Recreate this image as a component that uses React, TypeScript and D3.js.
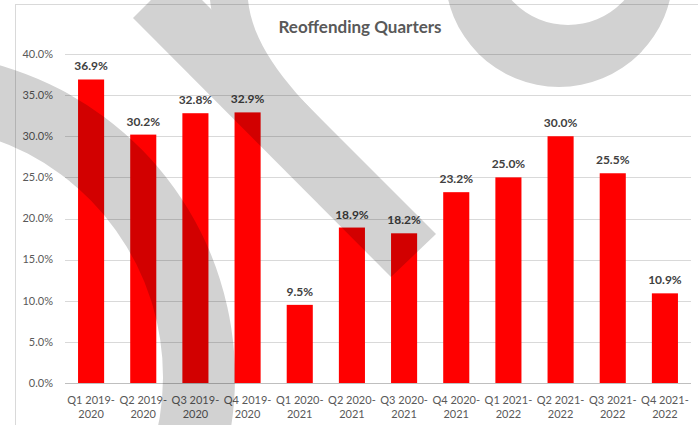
import * as d3 from 'd3';
import { type FC } from 'react';

const categories = [
  'Q1 2019-2020',
  'Q2 2019-2020',
  'Q3 2019-2020',
  'Q4 2019-2020',
  'Q1 2020-2021',
  'Q2 2020-2021',
  'Q3 2020-2021',
  'Q4 2020-2021',
  'Q1 2021-2022',
  'Q2 2021-2022',
  'Q3 2021-2022',
  'Q4 2021-2022',
];
const reoffending = [0.369, 0.302, 0.328, 0.329, 0.095, 0.189, 0.182, 0.232, 0.25, 0.3, 0.255, 0.109];
const yTicks = [0, 0.05, 0.1, 0.15, 0.2, 0.25, 0.3, 0.35, 0.4];
const title = 'Reoffending Quarters';

const width = 698;
const height = 425;
const marginTop = 54;
const marginRight = 7;
const marginBottom = 42;
const marginLeft = 65;

const font = "Lato, 'Noto Sans', sans-serif";

// grey logo watermark lying over the picture (decoration only)
const Watermark: FC = () => {
  const arcBand = d3.arc()({
    innerRadius: 252,
    outerRadius: 324,
    startAngle: -0.3,
    endAngle: 2.2,
  } as d3.DefaultArcObject);

  const diag = d3.path();
  diag.moveTo(133, 18);
  diag.lineTo(151, 0);
  diag.lineTo(202, 0);
  diag.lineTo(436, 234);
  diag.lineTo(391, 277);
  diag.closePath();

  const hook = d3.path();
  hook.moveTo(210, 0);
  hook.lineTo(248, 0);
  hook.bezierCurveTo(252, 40, 280, 80, 330, 128);
  hook.lineTo(212, 15);
  hook.closePath();

  const ring = d3.path();
  ring.moveTo(559 + 114, -27);
  ring.arc(559, -27, 114, 0, Math.PI * 2);
  ring.moveTo(568 + 76, -51);
  ring.arc(568, -51, 76, 0, Math.PI * 2);

  return (
    <g style={{ mixBlendMode: 'multiply' }} fill='#d2d2d2'>
      <path transform='translate(-89,377)' d={arcBand ?? undefined} />
      <path d={diag.toString()} />
      <path d={hook.toString()} />
      <path d={ring.toString()} fillRule='evenodd' />
    </g>
  );
};

const App: FC = () => {
  const x = d3
    .scaleBand<string>()
    .domain(categories)
    .range([marginLeft, width - marginRight])
    .paddingInner(0.5)
    .paddingOuter(0.25);

  const y = d3.scaleLinear([0, 0.4], [height - marginBottom, marginTop]);
  const pct = d3.format('.1%');

  return (
    <svg
      width={width}
      height={height}
      viewBox={`0, 0, ${width}, ${height}`}
      style={{ position: 'absolute', left: 0, top: 0, fontFamily: font }}
    >
      <rect width={width} height={height} fill='#fff' />
      <rect x={15.5} y={4.5} width={700} height={440} fill='none' stroke='#d9d9d9' />

      <text x={360} y={33} textAnchor='middle' fontSize={17} fontWeight={700} fill='#595959'>
        {title}
      </text>

      <g>
        {yTicks.map((t) => (
          <g key={t}>
            <line
              x1={marginLeft}
              x2={width - marginRight}
              y1={Math.round(y(t)) + 0.5}
              y2={Math.round(y(t)) + 0.5}
              stroke={t === 0 ? '#bfbfbf' : '#d9d9d9'}
            />
            <text x={53} y={y(t)} dy='0.35em' textAnchor='end' fontSize={11} fill='#595959'>
              {pct(t)}
            </text>
          </g>
        ))}
      </g>

      <g fill='#ff0000'>
        {categories.map((c, i) => (
          <rect
            key={c}
            x={x(c)}
            y={y(reoffending[i])}
            width={x.bandwidth()}
            height={y(0) - y(reoffending[i])}
          />
        ))}
      </g>

      <g textAnchor='middle' fontSize={12} fontWeight={700} fill='#404040'>
        {categories.map((c, i) => (
          <text key={c} x={(x(c) ?? 0) + x.bandwidth() / 2} y={y(reoffending[i]) - 9}>
            {pct(reoffending[i])}
          </text>
        ))}
      </g>

      <g textAnchor='middle' fontSize={11} fill='#595959'>
        {categories.map((c) => {
          const [head, tail] = c.split('-');
          const cx = (x(c) ?? 0) + x.bandwidth() / 2;
          return (
            <text key={c} x={cx}>
              <tspan x={cx} y={404}>
                {head}-
              </tspan>
              <tspan x={cx} y={418}>
                {tail}
              </tspan>
            </text>
          );
        })}
      </g>

      <Watermark />
    </svg>
  );
};

export default App;
